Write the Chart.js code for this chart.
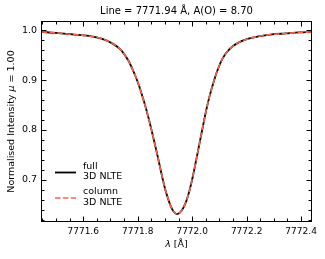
<!DOCTYPE html>
<html>
<head>
<meta charset="utf-8">
<script src="https://cdn.jsdelivr.net/npm/chart.js@4.4.1/dist/chart.umd.min.js"></script>
<style>
html,body{margin:0;padding:0;background:#fff;}
#wrap{width:325px;height:259px;position:relative;}
</style>
</head>
<body>
<div id="wrap"><canvas id="c" width="325" height="259"></canvas></div>
<script>
// ---- data ----
const wavelengths = [7771.447,7771.500,7771.560,7771.620,7771.670,7771.710,7771.740,7771.765,7771.785,7771.805,7771.822,7771.838,7771.852,7771.865,7771.877,7771.889,7771.900,7771.912,7771.922,7771.932,7771.943,7771.955,7771.967,7771.979,7771.991,7772.003,7772.015,7772.027,7772.039,7772.051,7772.063,7772.078,7772.093,7772.113,7772.138,7772.168,7772.203,7772.243,7772.293,7772.343,7772.393,7772.440];
const fullNLTE   = [0.997,0.995,0.992,0.989,0.983,0.973,0.960,0.940,0.917,0.889,0.859,0.828,0.797,0.767,0.738,0.708,0.683,0.661,0.646,0.636,0.631,0.634,0.643,0.658,0.680,0.708,0.740,0.773,0.806,0.838,0.866,0.895,0.920,0.945,0.963,0.975,0.983,0.988,0.992,0.994,0.996,0.997];
const columnNLTE = [0.997,0.995,0.992,0.989,0.983,0.973,0.960,0.940,0.917,0.889,0.859,0.828,0.797,0.767,0.738,0.708,0.683,0.661,0.646,0.636,0.631,0.634,0.643,0.658,0.680,0.708,0.740,0.773,0.806,0.838,0.866,0.895,0.920,0.945,0.963,0.975,0.983,0.988,0.992,0.994,0.996,0.997];
const seriesLabels = [["full","3D NLTE"],["column","3D NLTE"]];
const xTicks = [7771.6,7771.8,7772.0,7772.2,7772.4];
const yTicks = [0.7,0.8,0.9,1.0];
const xMinorTicks = [7771.45,7771.5,7771.55,7771.65,7771.7,7771.75,7771.85,7771.9,7771.95,7772.05,7772.1,7772.15,7772.25,7772.3,7772.35];
const yMinorTicks = [0.62,0.64,0.66,0.68,0.72,0.74,0.76,0.78,0.82,0.84,0.86,0.88,0.92,0.94,0.96,0.98];
const titleText = "Line = 7771.94 Å, A(O) = 8.70";
const yTitleParts = [["Normalised Intensity ", false], ["μ", true], [" = 1.00", false]];

const FONT = "'DejaVu Sans', sans-serif";

function drawParts(ctx, parts, cx, y, size) {
  let total = 0;
  const ws = parts.map(([t, it]) => { ctx.font = (it ? "italic " : "") + size + "px " + FONT; const w = ctx.measureText(t).width; total += w; return w; });
  let x = cx - total / 2;
  ctx.textAlign = 'left';
  parts.forEach(([t, it], i) => { ctx.font = (it ? "italic " : "") + size + "px " + FONT; ctx.fillText(t, x, y); x += ws[i]; });
}

const framePlugin = {
  id: 'frame',
  afterDraw(chart) {
    const ctx = chart.ctx, a = chart.chartArea;
    const xs = chart.scales.x, ys = chart.scales.y;
    ctx.save();
    ctx.strokeStyle = '#000';
    ctx.lineWidth = 1;
    ctx.strokeRect(Math.round(a.left)+0.5, Math.round(a.top)+0.5, Math.round(a.right-a.left)-1, Math.round(a.bottom-a.top)-1);
    const L = Math.round(a.left)+0.5, R = Math.round(a.right)-0.5, T = Math.round(a.top)+0.5, B = Math.round(a.bottom)-0.5;
    function xt(v, len){
      const p = Math.round(xs.getPixelForValue(v))+0.5;
      ctx.beginPath(); ctx.moveTo(p,B); ctx.lineTo(p,B-len); ctx.moveTo(p,T); ctx.lineTo(p,T+len); ctx.stroke();
    }
    function yt(v, len){
      const p = Math.round(ys.getPixelForValue(v))+0.5;
      ctx.beginPath(); ctx.moveTo(L,p); ctx.lineTo(L+len,p); ctx.moveTo(R,p); ctx.lineTo(R-len,p); ctx.stroke();
    }
    xTicks.forEach(v=>xt(v,5)); xMinorTicks.forEach(v=>xt(v,3));
    yTicks.forEach(v=>yt(v,5)); yMinorTicks.forEach(v=>yt(v,3));

    // title
    ctx.fillStyle = '#000';
    ctx.font = "10px " + FONT;
    ctx.textAlign = 'center'; ctx.textBaseline = 'middle';
    ctx.fillText(titleText, (a.left+a.right)/2, 11);

    // y title
    ctx.save();
    ctx.translate(12, (a.top+a.bottom)/2);
    ctx.rotate(-Math.PI/2);
    drawParts(ctx, yTitleParts, 0, 0, 9.5);
    ctx.restore();

    // x title
    drawParts(ctx, [["λ", true], [" [Å]", false]], (a.left+a.right)/2, 245, 9.5);

    // legend
    const ds = chart.data.datasets;
    const rows = [172.5, 198];
    ds.forEach((d,i)=>{
      const y = rows[i];
      ctx.save();
      ctx.strokeStyle = d.borderColor;
      ctx.lineWidth = d.borderWidth;
      ctx.setLineDash(d.borderDash || []);
      ctx.beginPath(); ctx.moveTo(55,y); ctx.lineTo(76,y); ctx.stroke();
      ctx.restore();
      ctx.font = "9.5px " + FONT;
      ctx.fillStyle = '#000';
      ctx.textAlign='left'; ctx.textBaseline='middle';
      ctx.fillText(seriesLabels[i][0], 83, y-6);
      ctx.fillText(seriesLabels[i][1], 83, y+4.5);
    });
    ctx.restore();
  }
};

new Chart(document.getElementById('c'), {
  type: 'line',
  data: {
    datasets: [
      { label: 'full 3D NLTE', order: 2, data: wavelengths.map((x,i)=>({x, y: fullNLTE[i]})),
        borderColor: '#000000', borderWidth: 1.8, pointRadius: 0, cubicInterpolationMode: 'monotone', fill:false },
      { label: 'column 3D NLTE', order: 1, data: wavelengths.map((x,i)=>({x, y: columnNLTE[i]})),
        borderColor: '#ff6347', borderWidth: 1.6, borderDash: [5.5,2.4], pointRadius: 0, cubicInterpolationMode: 'monotone', fill:false }
    ]
  },
  options: {
    responsive: false,
    animation: false,
    devicePixelRatio: 1,
    layout: { padding: { top: 21, right: 13, left: 0, bottom: 0 } },
    plugins: { legend: { display: false }, title: { display: false }, tooltip: { enabled: false } },
    scales: {
      x: {
        type: 'linear', min: 7771.445, max: 7772.44,
        afterBuildTicks: s => { s.ticks = xTicks.map(v=>({value:v})); },
        afterFit: s => { s.height = 37; },
        grid: { display: false, drawTicks: false },
        border: { display: false },
        ticks: { color: '#000', font: { family: FONT, size: 9 }, padding: 4, maxRotation: 0, autoSkip: false,
                 callback: v => v.toFixed(1) }
      },
      y: {
        type: 'linear', min: 0.615, max: 1.019,
        afterBuildTicks: s => { s.ticks = yTicks.map(v=>({value:v})); },
        afterFit: s => { s.width = 41; },
        grid: { display: false, drawTicks: false },
        border: { display: false },
        ticks: { color: '#000', font: { family: FONT, size: 9.5 }, padding: 4, autoSkip: false,
                 callback: v => v.toFixed(1) }
      }
    }
  },
  plugins: [framePlugin]
});
</script>
</body>
</html>
